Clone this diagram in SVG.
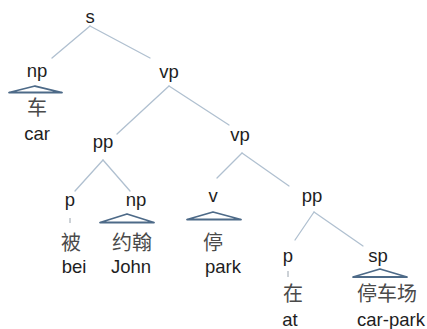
<svg xmlns="http://www.w3.org/2000/svg" width="427" height="329" viewBox="0 0 427 329">
  <style>
    .lbl { font-family: "Liberation Sans", Arial, sans-serif; font-size: 18.5px; fill: #1e1e1e; text-anchor: middle; }
    .han { font-family: "Noto Sans CJK SC", "Noto Sans", sans-serif; font-size: 20px; fill: #4a4a4a; text-anchor: middle; }
    .edge { stroke: #b0c0d0; stroke-width: 1.3; fill: none; stroke-linecap: round; }
    .roof { stroke: #4d6a88; stroke-width: 1.8; fill: none; stroke-linejoin: round; }
    .tick { stroke: #9aa4ae; stroke-width: 1; }
  </style>
  <rect width="427" height="329" fill="#ffffff"/>

  <!-- branches of the tree -->
  <g id="connectors">
    <line class="edge" x1="90" y1="26" x2="52" y2="58"/>
    <line class="edge" x1="90" y1="26" x2="150" y2="58"/>
    <line class="edge" x1="169" y1="86" x2="117" y2="134"/>
    <line class="edge" x1="169" y1="86" x2="229" y2="125"/>
    <line class="edge" x1="103" y1="160" x2="75" y2="191"/>
    <line class="edge" x1="103" y1="160" x2="130" y2="191"/>
    <line class="edge" x1="242" y1="153" x2="217" y2="178"/>
    <line class="edge" x1="242" y1="153" x2="289" y2="186"/>
    <line class="edge" x1="314" y1="212" x2="295" y2="240"/>
    <line class="edge" x1="314" y1="212" x2="363" y2="246"/>
    <line class="tick" x1="70" y1="218" x2="70" y2="223"/>
    <line class="tick" x1="288" y1="271" x2="288" y2="277"/>
    <polygon class="roof" points="35,86 9,92.5 62,92.5"/>
    <polygon class="roof" points="127,214 100,222.5 154,222.5"/>
    <polygon class="roof" points="213,212 187,219.5 241,219.5"/>
    <polygon class="roof" points="380,269 353,277 407,277"/>
  </g>

  <g id="s"><text class="lbl" x="90" y="23">s</text></g>

  <g id="np-car">
    <text class="lbl" x="37" y="77">np</text>
    <text class="han" x="37" y="115">车</text>
    <text class="lbl" x="37" y="140">car</text>
  </g>

  <g id="vp"><text class="lbl" x="169" y="78">vp</text></g>

  <g id="pp"><text class="lbl" x="103" y="148">pp</text></g>

  <g id="vp-inner"><text class="lbl" x="240" y="141">vp</text></g>

  <g id="p-bei">
    <text class="lbl" x="70" y="206">p</text>
    <text class="han" x="71" y="250">被</text>
    <text class="lbl" x="74" y="273">bei</text>
  </g>

  <g id="np-john">
    <text class="lbl" x="136" y="206">np</text>
    <text class="han" x="132" y="250">约翰</text>
    <text class="lbl" x="131" y="273">John</text>
  </g>

  <g id="v-park">
    <text class="lbl" x="213" y="202">v</text>
    <text class="han" x="213" y="250">停</text>
    <text class="lbl" x="223" y="273">park</text>
  </g>

  <g id="pp-inner"><text class="lbl" x="312" y="202">pp</text></g>

  <g id="p-at">
    <text class="lbl" x="288" y="262">p</text>
    <text class="han" x="293" y="301">在</text>
    <text class="lbl" x="290" y="326">at</text>
  </g>

  <g id="sp-carpark">
    <text class="lbl" x="378" y="262">sp</text>
    <text class="han" x="387" y="301">停车场</text>
    <text class="lbl" x="391" y="326">car-park</text>
  </g>
</svg>
